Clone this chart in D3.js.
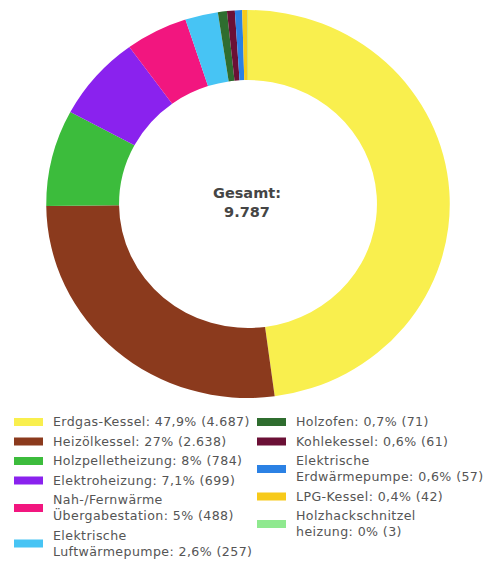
<!DOCTYPE html>
<html><head><meta charset="utf-8">
<script src="https://cdn.jsdelivr.net/npm/d3@7"></script>
<style>html,body{margin:0;padding:0;background:#fff;}svg{display:block;}</style>
</head><body>
<script>
const categories = ["Erdgas-Kessel","Heizölkessel","Holzpelletheizung","Elektroheizung","Nah-/Fernwärme\nÜbergabestation","Elektrische\nLuftwärmepumpe","Holzofen","Kohlekessel","Elektrische\nErdwärmepumpe","LPG-Kessel","Holzhackschnitzel\nheizung"];
const values = [4687,2638,784,699,488,257,71,61,57,42,3];
const colors = ["#f9ef4e","#8b3a1d","#3cbc3c","#8a22ee","#f2167f","#47c4f4","#2f6d2f","#6b1036","#2b81e4","#f7ca1a","#8fe98f"];
const totalLabel = "Gesamt:";

const W = 488, H = 563;
const svg = d3.select("body").append("svg").attr("width", W).attr("height", H);
const loc = d3.formatLocale({decimal: ",", thousands: ".", grouping: [3], currency: ["", "€"]});
const fmtInt = loc.format(",d");
const fmtPct = v => loc.format(",.1~f")(Math.round(v * 10) / 10);
const total = d3.sum(values);

const data = categories.map((c, i) => ({name: c, value: values[i], color: colors[i]}));
const pie = d3.pie().value(d => d.value).sort(null);
const arc = d3.arc().innerRadius(124).outerRadius(194);

const g = svg.append("g").attr("transform", "translate(248,204) scale(1.04,1)");
g.selectAll("path").data(pie(data)).join("path")
  .attr("d", arc).attr("fill", d => d.data.color);

const ct = svg.append("g").attr("transform", "translate(247,0)")
  .attr("font-family", "DejaVu Sans, sans-serif").attr("font-weight", "bold")
  .attr("fill", "#454545").attr("text-anchor", "middle").attr("font-size", 14.5);
ct.append("text").attr("y", 198).text(totalLabel);
ct.append("text").attr("y", 217).text(fmtInt(total));

// legend
const cols = [{x: 14, items: data.slice(0, 6)}, {x: 257, items: data.slice(6)}];
const fs = 12.6, lineH = 16, rowStep = 19.5;
cols.forEach(col => {
  let y = 422;
  col.items.forEach(d => {
    const lines = d.name.split("\n");
    const full = lines.slice();
    full[full.length - 1] += ": " + fmtPct(d.value / total * 100) + "% (" + fmtInt(d.value) + ")";
    const n = full.length;
    const mid = y + (n - 1) * lineH / 2;
    const lg = svg.append("g");
    lg.append("rect").attr("x", col.x).attr("y", mid - 4).attr("width", 29).attr("height", 8).attr("fill", d.color);
    const t = lg.append("text").attr("font-family", "DejaVu Sans, sans-serif").attr("font-size", fs)
      .attr("letter-spacing", 0.4).attr("fill", "#555");
    full.forEach((l, k) => {
      t.append("tspan").attr("x", col.x + 39).attr("y", y + k * lineH).attr("dy", "0.35em").text(l);
    });
    y += (n - 1) * lineH + rowStep;
  });
});
</script>
</body></html>
